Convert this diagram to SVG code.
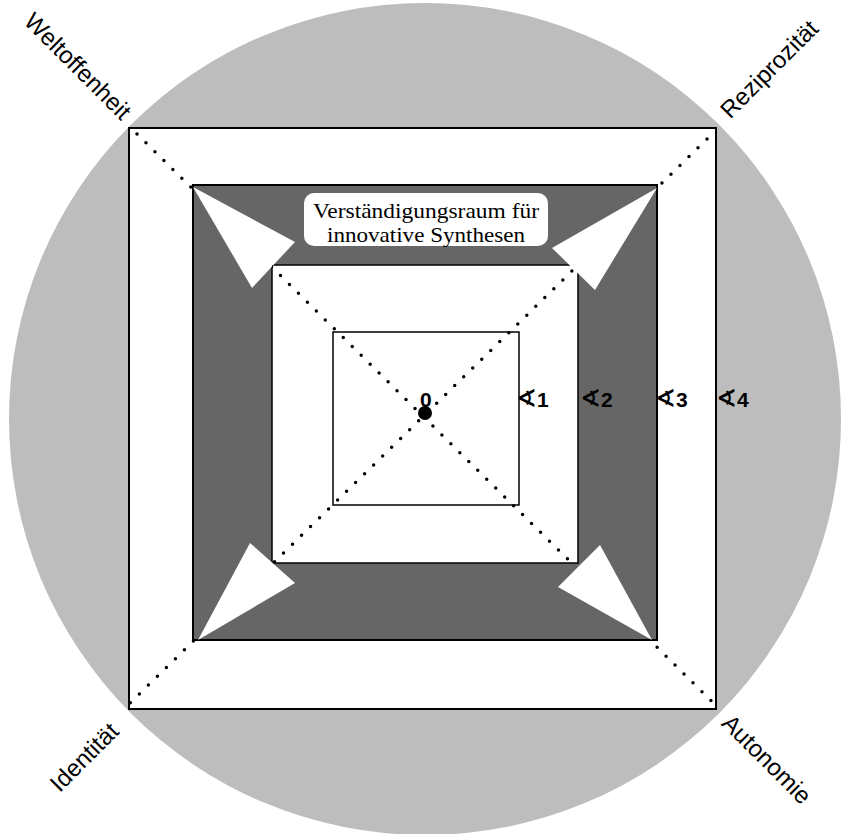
<svg xmlns="http://www.w3.org/2000/svg" width="843" height="834" viewBox="0 0 843 834">
<defs>
<style>
.lbl{font-family:"Liberation Sans","DejaVu Sans",Arial,sans-serif;font-size:24px;fill:#000;text-anchor:middle;dominant-baseline:central}
.num{font-family:"Liberation Sans","DejaVu Sans",Arial,sans-serif;font-size:21px;font-weight:bold;fill:#000}
.ang{font-family:"DejaVu Sans",sans-serif;font-size:25px;font-weight:bold}
.cap{font-family:"Liberation Serif","Times New Roman",serif;font-size:22px;fill:#000;text-anchor:middle}
.dot{fill:none;stroke:#000;stroke-width:3.5;stroke-linecap:round;stroke-dasharray:0 12.6}
.tri{fill:#fff;stroke:none}
</style>
<clipPath id="diagClip">
<path clip-rule="evenodd" d="M129,128 H716 V709 H129 Z M193,185 H657 V640 H193 Z M272,265 H578 V563 H272 Z"/>
</clipPath>
</defs>
<rect width="843" height="834" fill="#fff"/>
<g id="sphere">
<circle cx="425" cy="419" r="416" fill="#bdbdbd"/>
</g>
<g id="square4">
<rect x="129" y="128" width="587" height="581" fill="#fff" stroke="#000" stroke-width="2"/>
</g>
<g id="square3">
<rect x="193" y="185" width="464" height="455" fill="#666" stroke="#000" stroke-width="2"/>
</g>
<g id="square2">
<rect x="272" y="265" width="306" height="298" fill="#fff" stroke="#000" stroke-width="1.5"/>
</g>
<g id="square1">
<rect x="333" y="332" width="186" height="173" fill="#fff" stroke="#000" stroke-width="1.5"/>
</g>
<g id="arrows">
<polygon class="tri" points="193,187 295,242 252,288"/>
<polygon class="tri" points="657,188 552,248 595,290"/>
<polygon class="tri" points="198,640 250,543 295,583"/>
<polygon class="tri" points="652,640 600,545 558,587"/>
</g>
<g id="connectors" clip-path="url(#diagClip)">
<line class="dot" x1="137" y1="134" x2="716" y2="705.5"/>
<line class="dot" x1="707" y1="139" x2="129" y2="704"/>
</g>
<g id="center">
<circle cx="425" cy="413" r="7" fill="#000"/>
<text class="num" x="420" y="407">0</text>
</g>
<g id="levels">
<text class="num" x="516" y="407"><tspan class="ang">∢</tspan>1</text>
<text class="num" x="580" y="407"><tspan class="ang">∢</tspan>2</text>
<text class="num" x="655" y="407"><tspan class="ang">∢</tspan>3</text>
<text class="num" x="716" y="407"><tspan class="ang">∢</tspan>4</text>
</g>
<g id="caption">
<rect x="304" y="193" width="244" height="53" rx="10" fill="#fff"/>
<text class="cap" x="426" y="218" textLength="226" lengthAdjust="spacingAndGlyphs">Verständigungsraum für</text>
<text class="cap" x="426" y="242" textLength="198" lengthAdjust="spacingAndGlyphs">innovative Synthesen</text>
</g>
<g id="corner-labels">
<text class="lbl" transform="translate(78,66) rotate(45)">Weltoffenheit</text>
<text class="lbl" transform="translate(769,69) rotate(-45)">Reziprozität</text>
<text class="lbl" transform="translate(84,757) rotate(-45)">Identität</text>
<text class="lbl" transform="translate(767,759) rotate(45)">Autonomie</text>
</g>
</svg>
